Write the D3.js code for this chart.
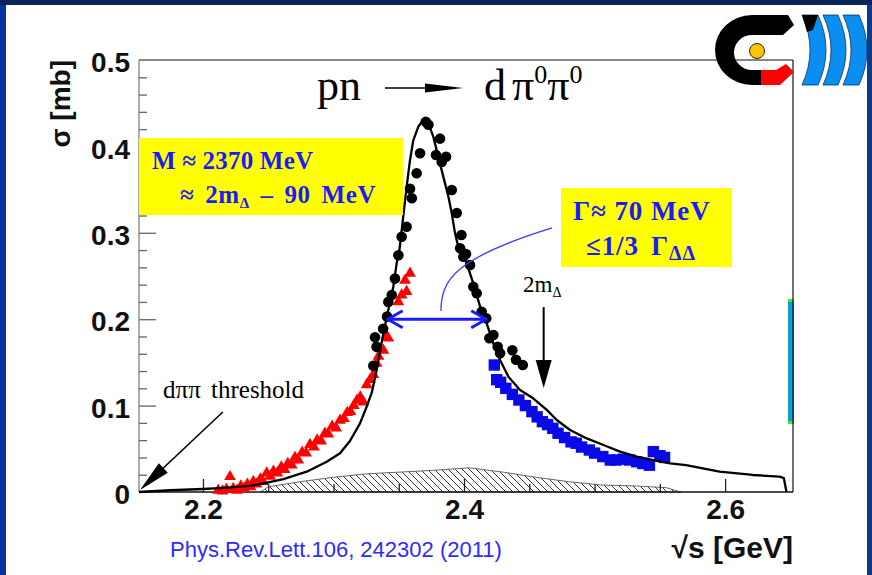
<!DOCTYPE html>
<html lang="en">
<head>
<meta charset="UTF-8">
<title>pn → dπ0π0 cross section</title>
<script src="https://cdn.jsdelivr.net/npm/d3@7"></script>
<style>
  body { margin: 0; padding: 0; background: #ffffff; }
  svg { display: block; }
  .sans { font-family: "Liberation Sans", Arial, Helvetica, sans-serif; }
  .serif { font-family: "Liberation Serif", "Times New Roman", serif; }
</style>
</head>
<body>
<svg id="chart" width="872" height="575"></svg>
<script>
// WASA data, black circles
const wasaS = [2.3305, 2.3318, 2.3330, 2.3380, 2.3410, 2.3420, 2.3446, 2.3471, 2.3497, 2.3522,
  2.3560, 2.3586, 2.3600, 2.3637, 2.3663, 2.3707, 2.3727, 2.3785, 2.3816, 2.3829, 2.3862,
  2.3906, 2.3944, 2.3970, 2.3980, 2.3995, 2.4015, 2.4046, 2.4071, 2.4097, 2.4135, 2.4170,
  2.4194, 2.4225, 2.4258, 2.4276, 2.4370, 2.4398, 2.4450];
const wasaSigma = [0.146, 0.179, 0.168, 0.189, 0.203, 0.220, 0.228, 0.247, 0.274, 0.2955,
  0.307, 0.351, 0.340, 0.369, 0.392, 0.4286, 0.425, 0.390, 0.409, 0.382, 0.388,
  0.3495, 0.323, 0.282, 0.2975, 0.2724, 0.2755, 0.2627, 0.2376, 0.230, 0.2087, 0.201,
  0.178, 0.1817, 0.168, 0.1605, 0.164, 0.153, 0.147];

// red triangles (low energy data)
const lowS = [2.2117, 2.2150, 2.2180, 2.2207, 2.2232, 2.2262, 2.2290, 2.2315, 2.2340, 2.2365,
  2.2386, 2.2410, 2.2440, 2.2460, 2.2488, 2.2515, 2.2540, 2.2570, 2.2600, 2.2625, 2.2650,
  2.2680, 2.2705, 2.2730, 2.2760, 2.2790, 2.2820, 2.2850, 2.2875, 2.2905, 2.2935, 2.2960,
  2.2990, 2.3020, 2.3050, 2.3080, 2.3105, 2.3130, 2.3155, 2.3180, 2.3205, 2.3228, 2.3254,
  2.3280, 2.3305, 2.3330, 2.3345, 2.3382, 2.3407, 2.3420, 2.3497, 2.3522, 2.3548, 2.3560, 2.3586];
const lowSigma = [0.002, 0.001, 0.003, 0.0177, 0.004, 0.002, 0.007, 0.004, 0.009, 0.006,
  0.012, 0.009, 0.015, 0.012, 0.022, 0.018, 0.024, 0.022, 0.029, 0.026, 0.033,
  0.031, 0.040, 0.037, 0.046, 0.045, 0.055, 0.052, 0.060, 0.059, 0.068, 0.067,
  0.076, 0.074, 0.083, 0.085, 0.092, 0.093, 0.100, 0.106, 0.110, 0.104, 0.124,
  0.130, 0.136, 0.149, 0.157, 0.164, 0.180, 0.178, 0.220, 0.228, 0.245, 0.232, 0.253];

// blue squares (high energy data)
const highS = [2.4232, 2.4250, 2.4280, 2.4320, 2.4370, 2.4420, 2.4470, 2.4520, 2.4560, 2.4600,
  2.4640, 2.4680, 2.4720, 2.4770, 2.4820, 2.4860, 2.4900, 2.4960, 2.5000, 2.5063, 2.5120,
  2.5165, 2.5220, 2.5267, 2.5323, 2.5370, 2.5420, 2.5450, 2.5500, 2.5536];
const highSigma = [0.147, 0.130, 0.127, 0.120, 0.113, 0.1065, 0.100, 0.093, 0.087, 0.0814,
  0.078, 0.0737, 0.068, 0.063, 0.058, 0.0564, 0.052, 0.0486, 0.045, 0.041, 0.037,
  0.037, 0.038, 0.037, 0.035, 0.033, 0.031, 0.0467, 0.042, 0.040];

// theory curve
const curveS = [2.151, 2.175, 2.200, 2.213, 2.236, 2.250, 2.2616, 2.2795, 2.2948, 2.305, 2.3126,
  2.3203, 2.3254, 2.3293, 2.333, 2.3344, 2.3382, 2.342, 2.3458, 2.3484, 2.3505, 2.356, 2.3586,
  2.3611, 2.365, 2.3688, 2.3727, 2.3765, 2.3803, 2.3841, 2.388, 2.3906, 2.3931, 2.3956, 2.402,
  2.4071, 2.4123, 2.4174, 2.4224, 2.4276, 2.434, 2.4429, 2.4529, 2.4634, 2.471, 2.4812, 2.494,
  2.5068, 2.5195, 2.5323, 2.545, 2.5579, 2.5701, 2.5957, 2.6212, 2.6416, 2.645, 2.647];
const curveSigma = [0, 0.002, 0.0035, 0.0045, 0.007, 0.011, 0.015, 0.0235, 0.035, 0.0448, 0.059,
  0.0795, 0.0987, 0.115, 0.141, 0.153, 0.1837, 0.2106, 0.2376, 0.2647, 0.280, 0.353, 0.384,
  0.407, 0.423, 0.4306, 0.4267, 0.411, 0.388, 0.365, 0.342, 0.3225, 0.2994, 0.284, 0.2647,
  0.2415, 0.2145, 0.195, 0.172, 0.1528, 0.1335, 0.118, 0.1084, 0.095, 0.0833, 0.0718, 0.062,
  0.0544, 0.0467, 0.0409, 0.037, 0.0332, 0.031, 0.0235, 0.0197, 0.0177, 0.016, 0];

// systematic uncertainty band (hatched)
const systS = [2.244, 2.250, 2.275, 2.300, 2.325, 2.376, 2.404, 2.430, 2.455, 2.480, 2.506, 2.531, 2.555, 2.566];
const systSigma = [0, 0.006, 0.012, 0.017, 0.021, 0.025, 0.028, 0.023, 0.017, 0.012, 0.008, 0.007, 0.005, 0];

const xMajor = [2.2, 2.4, 2.6];
const xMinor = [2.25, 2.3, 2.35, 2.45, 2.5, 2.55];
const yMajor = [0, 0.1, 0.2, 0.3, 0.4, 0.5];
const yMinor = [0.02, 0.04, 0.06, 0.08, 0.12, 0.14, 0.16, 0.18, 0.22, 0.24, 0.26, 0.28,
  0.32, 0.34, 0.36, 0.38, 0.42, 0.44, 0.46, 0.48];

const W = 872, H = 575;
const svg = d3.select("#chart");

const x = d3.scaleLinear().domain([2.151, 2.652]).range([139, 793]);
const y = d3.scaleLinear().domain([0, 0.5]).range([492, 60]);
const pt = (s, v) => [x(s), y(v)];

// slide background
svg.append("rect").attr("width", W).attr("height", H).attr("fill", "#ffffff");
svg.append("rect").attr("x", 0).attr("y", 0).attr("width", 6).attr("height", H).attr("fill", "#0633a0");
svg.append("rect").attr("x", W - 5).attr("y", 0).attr("width", 5).attr("height", H).attr("fill", "#0a3c8c");
svg.append("rect").attr("x", 0).attr("y", 0).attr("width", W).attr("height", 5).attr("fill", "#0b2458");

const defs = svg.append("defs");
const pat = defs.append("pattern").attr("id", "hatch")
  .attr("patternUnits", "userSpaceOnUse").attr("width", 7).attr("height", 7);
pat.append("path").attr("d", "M-1,-1L8,8M-1,6L1,8M6,-1L8,1")
  .attr("stroke", "#333").attr("stroke-width", 1);

// hatched systematic band
const band = systS.map((s, i) => [s, systSigma[i]]);
svg.append("path")
  .attr("d", d3.area().x(d => x(d[0])).y0(y(0)).y1(d => y(d[1]))(band))
  .attr("fill", "url(#hatch)").attr("stroke", "#666").attr("stroke-width", 1);

// axes (ROOT style, ticks inside)
const xr = x.range(), yr = y.range();
const gx = svg.append("g").attr("transform", `translate(0,${yr[0]})`);
gx.call(d3.axisBottom(x).tickValues(xMinor).tickSize(-8).tickFormat(""));
gx.select(".domain").remove();
const gx2 = svg.append("g").attr("transform", `translate(0,${yr[0]})`);
gx2.call(d3.axisBottom(x).tickValues(xMajor).tickSize(-13).tickPadding(7).tickFormat(d3.format(".1f")));
gx2.select(".domain").remove();
gx.selectAll(".tick line").attr("stroke", "#222").attr("stroke-width", 1.3);
gx2.selectAll(".tick line").attr("stroke", "#222").attr("stroke-width", 1.3);

const gy = svg.append("g").attr("transform", `translate(${xr[0]},0)`);
gy.call(d3.axisLeft(y).tickValues(yMinor).tickSize(-8).tickFormat(""));
gy.select(".domain").remove();
const gy2 = svg.append("g").attr("transform", `translate(${xr[0]},0)`);
gy2.call(d3.axisLeft(y).tickValues(yMajor).tickSize(-17).tickPadding(9)
  .tickFormat(d => d === 0 ? "0" : d3.format(".1f")(d)));
gy2.select(".domain").remove();
gy.selectAll(".tick line").attr("stroke", "#666").attr("stroke-width", 1.3);
gy2.selectAll(".tick line").attr("stroke", "#666").attr("stroke-width", 1.3);
gy2.selectAll(".tick").filter(d => d === 0.5 || d === 0).select("line").remove();

svg.selectAll(".tick text")
  .attr("class", "sans").attr("font-size", 28).attr("font-weight", "bold").attr("fill", "#111");
gy2.selectAll(".tick text").attr("dy", "0.42em");

// frame
svg.append("line").attr("x1", xr[0]).attr("x2", xr[1]).attr("y1", yr[1]).attr("y2", yr[1]).attr("stroke", "#111").attr("stroke-width", 1.2);
svg.append("line").attr("x1", xr[0]).attr("x2", xr[1]).attr("y1", yr[0]).attr("y2", yr[0]).attr("stroke", "#111").attr("stroke-width", 1.5);
svg.append("line").attr("x1", xr[0]).attr("x2", xr[0]).attr("y1", yr[0]).attr("y2", yr[1]).attr("stroke", "#777").attr("stroke-width", 1.2);

// side decoration at the right frame
svg.append("rect").attr("x", 788).attr("y", 300).attr("width", 6).attr("height", 123).attr("fill", "#0b9fd6");
svg.append("rect").attr("x", 788).attr("y", 299).attr("width", 6).attr("height", 3).attr("fill", "#33ee33");
svg.append("rect").attr("x", 788).attr("y", 421).attr("width", 6).attr("height", 3).attr("fill", "#33ee33");
svg.append("line").attr("x1", xr[1]).attr("x2", xr[1]).attr("y1", yr[0]).attr("y2", yr[1]).attr("stroke", "#111").attr("stroke-width", 1.2);

// data: red triangles
const tri = d3.symbol(d3.symbolTriangle, 60)();
svg.append("g").selectAll("path").data(lowS.map((s, i) => pt(s, lowSigma[i]))).join("path")
  .attr("d", tri).attr("transform", d => `translate(${d[0]},${d[1]})`).attr("fill", "#ff0000");

// blue squares
const sq = d3.symbol(d3.symbolSquare, 130)();
svg.append("g").selectAll("path").data(highS.map((s, i) => pt(s, highSigma[i]))).join("path")
  .attr("d", sq).attr("transform", d => `translate(${d[0]},${d[1]})`).attr("fill", "#0a0ae8");

// theory curve
svg.append("path")
  .attr("d", d3.line().x(d => x(d[0])).y(d => y(d[1]))(curveS.map((s, i) => [s, curveSigma[i]])))
  .attr("fill", "none").attr("stroke", "#000").attr("stroke-width", 2.3).attr("stroke-linejoin", "round");

// black circles
svg.append("g").selectAll("circle").data(wasaS.map((s, i) => pt(s, wasaSigma[i]))).join("circle")
  .attr("cx", d => d[0]).attr("cy", d => d[1]).attr("r", 5.3).attr("fill", "#000");

function arrowHead(tx, ty, fx, fy, len, hw) {
  const dx = tx - fx, dy = ty - fy, L = Math.hypot(dx, dy);
  const ux = dx / L, uy = dy / L;
  const bx = tx - ux * len, by = ty - uy * len;
  return `M${tx},${ty}L${bx - uy * hw},${by + ux * hw}L${bx + uy * hw},${by - ux * hw}Z`;
}

// width arrow (blue, double headed)
const [wl, wy] = pt(2.3415, 0.2), [wr] = pt(2.417, 0.2);
svg.append("line").attr("x1", wl + 2).attr("x2", wr - 2).attr("y1", wy).attr("y2", wy)
  .attr("stroke", "#1a1aff").attr("stroke-width", 3);
svg.append("path").attr("d", `M${wl + 15},${wy - 8.5}L${wl},${wy}L${wl + 15},${wy + 8.5}M${wr - 15},${wy - 8.5}L${wr},${wy}L${wr - 15},${wy + 8.5}`)
  .attr("fill", "none").attr("stroke", "#1a1aff").attr("stroke-width", 3).attr("stroke-linejoin", "round");

// connector from width box
const c0 = pt(2.3823, 0.2095), c1 = pt(2.3823, 0.2454), c2 = pt(2.3930, 0.2708), c3 = pt(2.4674, 0.3056);
svg.append("path").attr("d", `M${c0}C${c1} ${c2} ${c3}`)
  .attr("fill", "none").attr("stroke", "#3a3aff").attr("stroke-width", 1.3);

// 2m_Delta arrow
const a0 = pt(2.461, 0.214), a1 = pt(2.461, 0.1204);
svg.append("line").attr("x1", a0[0]).attr("x2", a1[0]).attr("y1", a0[1]).attr("y2", a1[1] - 20)
  .attr("stroke", "#000").attr("stroke-width", 2);
svg.append("path").attr("d", arrowHead(a1[0], a1[1], a0[0], a0[1], 28, 8)).attr("fill", "#000");
const mText = pt(2.4452, 0.2315);
svg.append("text").attr("class", "serif").attr("x", mText[0]).attr("y", mText[1]).attr("font-size", 23)
  .call(t => {
    t.append("tspan").text("2m");
    t.append("tspan").attr("font-size", 14).attr("dy", 5).text("Δ");
  });

// threshold arrow
const t0 = pt(2.2152, 0.0926), t1 = pt(2.1518, 0.0023);
svg.append("line").attr("x1", t0[0]).attr("y1", t0[1]).attr("x2", t1[0] + 18).attr("y2", t1[1] - 17)
  .attr("stroke", "#000").attr("stroke-width", 1.6);
svg.append("path").attr("d", arrowHead(t1[0], t1[1], t0[0], t0[1], 32, 6.5)).attr("fill", "#000");
const thr = pt(2.1694, 0.1088);
svg.append("text").attr("class", "serif").attr("x", thr[0]).attr("y", thr[1]).attr("font-size", 25)
  .attr("word-spacing", 4).text("dππ threshold");

// yellow boxes
svg.append("rect").attr("x", 139).attr("y", 138).attr("width", 264).attr("height", 77).attr("fill", "#ffff00");
svg.append("text").attr("class", "serif").attr("x", 152).attr("y", 169).attr("font-size", 25)
  .attr("font-weight", "bold").attr("fill", "#1a1aff").attr("letter-spacing", 0.2).text("M ≈ 2370 MeV");
svg.append("text").attr("class", "serif").attr("x", 180).attr("y", 203).attr("font-size", 25)
  .attr("font-weight", "bold").attr("fill", "#1a1aff").attr("letter-spacing", 0.6).attr("word-spacing", 4)
  .call(t => {
    t.append("tspan").text("≈ 2m");
    t.append("tspan").attr("font-size", 15).attr("dy", 5).text("Δ");
    t.append("tspan").attr("dy", -5).text(" – 90 MeV");
  });

svg.append("rect").attr("x", 561).attr("y", 188).attr("width", 171).attr("height", 79).attr("fill", "#ffff00");
svg.append("text").attr("class", "serif").attr("x", 573).attr("y", 220).attr("font-size", 27)
  .attr("font-weight", "bold").attr("fill", "#1a1aff").attr("letter-spacing", 0.9).text("Γ≈ 70 MeV");
svg.append("text").attr("class", "serif").attr("x", 586).attr("y", 255).attr("font-size", 27)
  .attr("font-weight", "bold").attr("fill", "#1a1aff").attr("letter-spacing", 0.9)
  .call(t => {
    t.append("tspan").text("≤1/3");
    t.append("tspan").attr("dx", 12).text("Γ");
    t.append("tspan").attr("font-size", 20).attr("dy", 5).text("ΔΔ");
  });

// reaction title
svg.append("text").attr("class", "serif").attr("x", 317).attr("y", 100).attr("font-size", 44).text("pn");
svg.append("line").attr("x1", 385).attr("x2", 430).attr("y1", 88).attr("y2", 88).attr("stroke", "#000").attr("stroke-width", 1.5);
svg.append("path").attr("d", arrowHead(463, 88, 385, 88, 38, 4.5)).attr("fill", "#000");
svg.append("text").attr("class", "serif").attr("x", 484).attr("y", 100).attr("font-size", 44)
  .call(t => {
    t.append("tspan").text("d");
    t.append("tspan").attr("dx", 6).text("π");
    t.append("tspan").attr("font-size", 26).attr("dy", -17).text("0");
    t.append("tspan").attr("dy", 17).text("π");
    t.append("tspan").attr("font-size", 26).attr("dy", -17).text("0");
  });

// axis titles
svg.append("text").attr("class", "sans").attr("transform", "translate(70,60) rotate(-90)")
  .attr("text-anchor", "end").attr("font-size", 28).attr("font-weight", "bold").attr("fill", "#111")
  .text("σ [mb]");
svg.append("text").attr("class", "sans").attr("x", 793).attr("y", 558)
  .attr("text-anchor", "end").attr("font-size", 30).attr("font-weight", "bold").attr("fill", "#111")
  .text("√s [GeV]");

// reference
svg.append("text").attr("class", "sans").attr("x", 170).attr("y", 557).attr("font-size", 22)
  .attr("fill", "#2b2bff").text("Phys.Rev.Lett.106, 242302 (2011)");

// logo
const logo = svg.append("g");
logo.append("path")
  .attr("d", "M788,15L752,15A37,35 0 0 0 752,85L762,85L762,70L752,70A18,17.5 0 0 1 752,35L783,35L794,25Z")
  .attr("fill", "#000");
logo.append("path").attr("d", "M761,85L780,85L794,72L786,64L776,70L761,70Z").attr("fill", "#ff0000");
logo.append("circle").attr("cx", 757).attr("cy", 51).attr("r", 7.5).attr("fill", "#ffc400").attr("stroke", "#222").attr("stroke-width", 1);
[[802, 16], [823, 15], [843, 16]].forEach(([xl, w]) => {
  logo.append("path")
    .attr("d", `M${xl},15L${xl + w},15Q${xl + w + 16},50 ${xl + w},85L${xl},85Q${xl + 16},50 ${xl},15Z`)
    .attr("fill", "#0a8ff0").attr("stroke", "#0a2f6a").attr("stroke-width", 0.8);
});
logo.append("path").attr("d", "M802,15L818,15L813,30L807,32Z").attr("fill", "#000");
</script>
</body>
</html>
